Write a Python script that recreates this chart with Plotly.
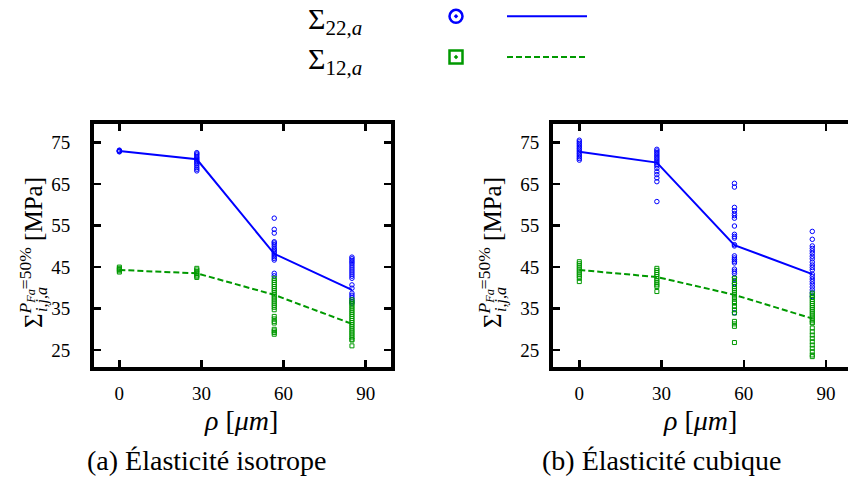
import plotly.graph_objects as go

# ---------------- data ----------------
rho = [0.0, 28.3, 56.6, 85.0]
x_ticks = [0, 30, 60, 90]
y_ticks = [25, 35, 45, 55, 65, 75]

# (a) isotropic elasticity
iso_s22_median = [73.0, 71.0, 48.2, 39.5]
iso_s12_median = [44.3, 43.5, 38.3, 31.3]
iso_s22_pts = [
    [72.8, 73.0, 73.1, 72.9, 73.2],
    [72.6, 72.3, 72.0, 71.6, 71.3, 71.0, 70.7, 70.3, 69.9, 69.5, 69.0, 68.6, 68.2],
    [56.8, 54.1, 53.2, 51.1, 50.8, 50.4, 49.9, 49.4, 49.1, 48.7, 48.3, 47.9, 47.5, 47.1, 46.7, 43.5, 42.9],
    [47.4, 47.0, 46.6, 46.2, 45.8, 45.3, 44.8, 44.3, 43.8, 43.3, 42.8, 42.3, 40.7, 39.9, 38.7, 38.2, 37.7,
     37.2, 36.7, 36.3],
]
iso_s12_pts = [
    [45.0, 44.7, 44.4, 44.1, 43.8],
    [44.7, 44.3, 43.9, 43.5, 43.1, 42.8, 42.5],
    [42.3, 41.8, 41.3, 40.8, 40.3, 39.8, 39.3, 38.8, 38.3, 37.8, 37.3, 36.8, 36.3, 35.8, 35.3, 34.7, 33.1,
     32.5, 31.9, 31.5, 30.0, 29.6, 29.2, 28.8],
    [37.1, 36.6, 36.1, 35.6, 35.1, 34.6, 34.1, 33.6, 33.1, 32.6, 32.1, 31.6, 31.1, 30.6, 30.1, 29.6, 29.1,
     28.6, 28.1, 27.6, 27.4, 26.0],
]

# (b) cubic elasticity
cub_s22_median = [72.8, 70.2, 50.3, 43.3]
cub_s12_median = [44.3, 42.6, 38.3, 32.6]
cub_s22_pts = [
    [75.6, 75.2, 74.8, 74.4, 74.0, 73.6, 73.2, 72.8, 72.4, 72.0, 71.6, 71.2, 70.8],
    [73.4, 73.0, 72.6, 72.2, 71.8, 71.4, 71.0, 70.6, 70.2, 69.8, 69.4, 68.8, 68.0, 67.3, 66.5, 65.6, 60.8],
    [65.2, 64.3, 59.4, 58.6, 57.9, 57.4, 56.8, 54.9, 52.9, 52.4, 52.0, 50.4, 50.1, 47.7, 47.2, 46.8, 46.4,
     46.0, 44.5, 44.0, 43.5, 42.5, 41.0, 34.0],
    [53.6, 51.7, 50.1, 49.5, 48.9, 48.3, 47.6, 47.0, 46.2, 45.5, 44.9, 44.3, 43.3, 42.7, 42.1, 41.5, 40.9,
     40.2, 39.5, 38.8, 37.9],
]
cub_s12_pts = [
    [46.3, 45.8, 45.3, 44.8, 44.3, 43.8, 43.3, 42.8, 42.3, 41.5],
    [44.7, 44.2, 43.7, 43.2, 42.7, 42.2, 41.7, 41.2, 40.7, 40.3, 39.1],
    [42.3, 41.8, 41.3, 40.8, 40.3, 39.8, 39.3, 38.8, 38.3, 37.8, 37.3, 36.7, 36.3, 35.5, 34.7, 33.9, 31.9,
     31.3, 30.7, 26.8],
    [38.7, 38.2, 37.7, 37.2, 36.7, 36.2, 35.7, 35.2, 34.7, 34.2, 33.7, 33.2, 32.7, 32.2, 31.7, 31.5, 30.3,
     29.4, 28.6, 27.8, 27.0, 26.2, 25.4, 24.6, 23.8, 23.4],
]

captions = ["(a) Élasticité isotrope", "(b) Élasticité cubique"]

# ---------------- style ----------------
W, H = 848, 483
BLUE = "#0000ff"
GREEN = "#009900"
FONT = "Liberation Serif"


def fx(p):
    return p / W


def fy(p):
    return 1 - p / H


def flatten(xs, groups):
    xx, yy = [], []
    for x, g in zip(xs, groups):
        xx += [x] * len(g)
        yy += g
    return xx, yy


fig = go.Figure()

panels = [
    ("x", "y", iso_s22_pts, iso_s12_pts, iso_s22_median, iso_s12_median),
    ("x2", "y2", cub_s22_pts, cub_s12_pts, cub_s22_median, cub_s12_median),
]
for xa, ya, s22p, s12p, s22m, s12m in panels:
    bx, by = flatten(rho, s22p)
    gx, gy = flatten(rho, s12p)
    fig.add_trace(go.Scatter(x=bx, y=by, mode="markers", xaxis=xa, yaxis=ya, showlegend=False,
                             marker=dict(symbol="circle-open", size=4.5, color=BLUE, line=dict(width=1))))
    fig.add_trace(go.Scatter(x=rho, y=s22m, mode="lines", xaxis=xa, yaxis=ya, showlegend=False,
                             line=dict(color=BLUE, width=2)))
    fig.add_trace(go.Scatter(x=gx, y=gy, mode="markers", xaxis=xa, yaxis=ya, showlegend=False,
                             marker=dict(symbol="square-open", size=4, color=GREEN, line=dict(width=1))))
    fig.add_trace(go.Scatter(x=rho, y=s12m, mode="lines", xaxis=xa, yaxis=ya, showlegend=False,
                             line=dict(color=GREEN, width=2, dash="6px,3px")))

# legend keys (markers in legend, lines in legend2)
fig.add_trace(go.Scatter(x=[None], y=[None], mode="markers", name=" ", legend="legend",
                         marker=dict(symbol="circle-open-dot", size=13, color=BLUE, line=dict(width=2.5))))
fig.add_trace(go.Scatter(x=[None], y=[None], mode="markers", name=" ", legend="legend",
                         marker=dict(symbol="square-open-dot", size=13, color=GREEN, line=dict(width=2.5))))
fig.add_trace(go.Scatter(x=[None], y=[None], mode="lines", name=" ", legend="legend2",
                         line=dict(color=BLUE, width=2)))
fig.add_trace(go.Scatter(x=[None], y=[None], mode="lines", name=" ", legend="legend2",
                         line=dict(color=GREEN, width=2, dash="6px,3px")))

# axes geometry (pixel based)
LW = 4
top_c, bot_c = 122, 369
y_px_per = (350 - 142.7) / 50.0
y_top_val = 75 + (142.7 - (top_c + LW / 2)) / y_px_per
y_bot_val = 25 - ((bot_c - LW / 2) - 350) / y_px_per
ydom = [fy(bot_c - LW / 2), fy(top_c + LW / 2)]

common_ax = dict(showline=True, linewidth=LW, linecolor="black", ticks="inside", ticklen=7,
                 tickwidth=2.5, tickcolor="black", showgrid=False, zeroline=False, automargin=False,
                 tickfont=dict(family=FONT, size=19, color="black"))

# left panel
lx0, lx1 = 92, 393
lpx = (lx1 - lx0) / 110.0
fig.update_layout(
    xaxis=dict(domain=[fx(lx0 + LW / 2), fx(lx1 - LW / 2)],
               range=[-10 + (LW / 2) / lpx, 100 - (LW / 2) / lpx],
               tickvals=x_ticks, mirror="ticks", anchor="y", ticklabelstandoff=6, **common_ax),
    yaxis=dict(domain=ydom, range=[y_bot_val, y_top_val], tickvals=y_ticks, mirror="ticks",
               anchor="x", ticklabelstandoff=16, **common_ax),
)
# right panel
r0 = 579.3
rpx = (826 - 579.3) / 90.0
rx0 = 551
fig.update_layout(
    xaxis2=dict(domain=[fx(rx0 + LW / 2), 1.0],
                range=[(rx0 + LW / 2 - r0) / rpx, (W - r0) / rpx],
                tickvals=x_ticks, mirror="ticks", anchor="y2", ticklabelstandoff=6, **common_ax),
    yaxis2=dict(domain=ydom, range=[y_bot_val, y_top_val], tickvals=y_ticks, mirror=False,
                anchor="x2", ticklabelstandoff=6, **common_ax),
)

annotations = []


def ann(text, x, y, size, **kw):
    d = dict(text=text, x=fx(x), y=fy(y), xref="paper", yref="paper", showarrow=False,
             font=dict(family=FONT, size=size, color="black"), xanchor="center", yanchor="middle")
    d.update(kw)
    annotations.append(d)


# legend labels
ann("Σ<sub>22,<i>a</i></sub>", 306, 21, 30, xanchor="left")
ann("Σ<sub>12,<i>a</i></sub>", 306, 61, 30, xanchor="left")

for cx, capx, cap, ytx in [(241, 206, captions[0], 31), (699.5, 661, captions[1], 490)]:
    ann("<i>ρ</i> [<i>μm</i>]", cx, 420, 28)
    ann(cap, capx, 460, 28)
    ann("Σ<sup><i>P<sub>Fa</sub></i>=50%</sup> [MPa]", ytx, 253, 25, textangle=-90)
    ann("<i>i,j,a</i>", ytx + 11, 300, 16, textangle=-90)

fig.update_layout(
    width=W, height=H, margin=dict(l=0, r=0, t=0, b=0, autoexpand=False),
    plot_bgcolor="white", paper_bgcolor="white",
    annotations=annotations, hovermode=False,
    legend=dict(x=fx(436), y=1 + 9 / H, xanchor="left", yanchor="top", font=dict(family=FONT, size=29),
                itemsizing="trace", bgcolor="rgba(0,0,0,0)", tracegroupgap=0),
    legend2=dict(x=fx(502), y=1 + 9 / H, xanchor="left", yanchor="top", font=dict(family=FONT, size=29),
                 itemwidth=80, bgcolor="rgba(0,0,0,0)", tracegroupgap=0),
)

fig.write_html("out.html", config={"displayModeBar": False, "staticPlot": True},
               post_script="document.body.style.margin='0px';document.body.style.overflow='hidden';")
